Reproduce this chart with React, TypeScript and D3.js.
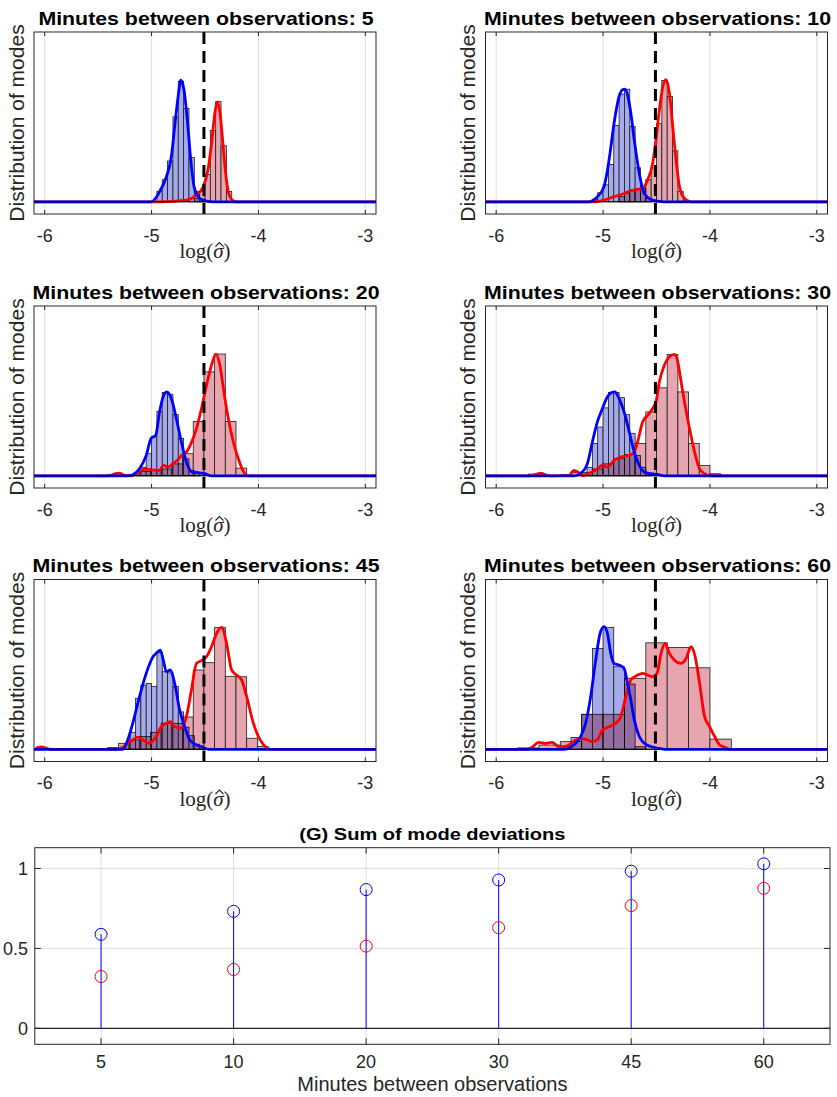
import React, { useRef, useEffect } from 'react';
import * as d3 from 'd3';

const minutes = [5, 10, 20, 30, 45, 60];
const trueLogSigma = -4.51;
const xTicks = [-6, -5, -4, -3];

// histogram bins per panel: left edge of first bin and bin width
const blueBinStart = [-4.95, -5.1, -5.15, -5.2, -5.25, -5.4];
const blueBinWidth = [0.05, 0.05, 0.05, 0.05, 0.05, 0.1];
const redBinStart = [-4.6, -4.85, -5.41, -5.7, -5.41, -5.8];
const redBinWidth = [0.05, 0.05, 0.1, 0.1, 0.1, 0.2];

// bar heights (density, axis top = 1)
const blueHist5 = [0.06, 0.13, 0.24, 0.5, 0.71, 0.55, 0.26, 0.06, 0.015];
const blueHist10 = [0.015, 0.053, 0.1, 0.22, 0.45, 0.634, 0.663, 0.443, 0.2, 0.08, 0.02];
const blueHist20 = [0.02, 0.05, 0.13, 0.23, 0.38, 0.49, 0.48, 0.36, 0.22, 0.1, 0.03, 0.015];
const blueHist30 = [0.01, 0.05, 0.19, 0.287, 0.4, 0.49, 0.49, 0.46, 0.36, 0.25, 0.12, 0.05, 0.015];
const blueHist45 = [0.035, 0.1, 0.3, 0.378, 0.388, 0.37, 0.57, 0.457, 0.45, 0.37, 0.22, 0.13, 0.08, 0.03, 0.01];
const blueHist60 = [0.02, 0.07, 0.206, 0.594, 0.718, 0.486, 0.384, 0.015];

const redHist5 = [0.02, 0.06, 0.16, 0.42, 0.59, 0.33, 0.06];
const redHist10 = [0.03, 0.05, 0.07, 0.075, 0.08, 0.13, 0.2, 0.46, 0.714, 0.62, 0.3, 0.06, 0.01];
const redHist20 = [0.005, 0.005, 0.005, 0.025, 0.035, 0.04, 0.07, 0.13, 0.32, 0.612, 0.717, 0.32, 0.045];
const redHist30 = [0.01, 0.005, 0, 0.005, 0.02, 0.02, 0.04, 0.07, 0.1, 0.124, 0.19, 0.376, 0.518, 0.715, 0.494, 0.19, 0.06, 0.012];
const redHist45 = [0.01, 0.035, 0.055, 0.075, 0.1, 0.153, 0.153, 0.19, 0.467, 0.51, 0.718, 0.43, 0.427, 0.065, 0.016];
const redHist60 = [0.008, 0.025, 0.045, 0.206, 0.206, 0.418, 0.627, 0.6, 0.48, 0.06];

// kernel density of the modes: [log sigma, density]
const blueKde5 = [[-5.003, 0], [-4.925, 0.059], [-4.862, 0.147], [-4.815, 0.265], [-4.784, 0.441], [-4.752, 0.618], [-4.727, 0.716], [-4.696, 0.657], [-4.665, 0.48], [-4.636, 0.265], [-4.602, 0.088], [-4.549, 0.02], [-4.486, 0.004], [-4.423, 0]];
const redKde5 = [[-4.925, 0], [-4.674, 0.01], [-4.58, 0.04], [-4.517, 0.088], [-4.47, 0.196], [-4.439, 0.343], [-4.408, 0.52], [-4.386, 0.588], [-4.361, 0.53], [-4.335, 0.363], [-4.31, 0.186], [-4.282, 0.059], [-4.245, 0.01], [-4.204, 0]];
const blueKde10 = [[-5.132, 0], [-5.053, 0.03], [-4.991, 0.089], [-4.944, 0.246], [-4.897, 0.463], [-4.85, 0.62], [-4.818, 0.66], [-4.796, 0.663], [-4.771, 0.63], [-4.74, 0.522], [-4.708, 0.364], [-4.661, 0.167], [-4.614, 0.049], [-4.552, 0.014], [-4.489, 0.004], [-4.426, 0]];
const redKde10 = [[-5.085, 0], [-4.991, 0.01], [-4.897, 0.03], [-4.803, 0.049], [-4.74, 0.065], [-4.677, 0.073], [-4.63, 0.079], [-4.583, 0.128], [-4.536, 0.226], [-4.505, 0.364], [-4.473, 0.541], [-4.442, 0.675], [-4.411, 0.719], [-4.379, 0.64], [-4.348, 0.443], [-4.317, 0.246], [-4.285, 0.089], [-4.238, 0.02], [-4.176, 0]];
const blueKde20 = [[-5.223, 0], [-5.176, 0.006], [-5.113, 0.041], [-5.05, 0.12], [-5.003, 0.222], [-4.962, 0.238], [-4.925, 0.376], [-4.887, 0.474], [-4.856, 0.494], [-4.815, 0.455], [-4.768, 0.337], [-4.721, 0.199], [-4.674, 0.081], [-4.627, 0.026], [-4.564, 0.018], [-4.502, 0.012], [-4.439, 0]];
const redKde20 = [[-5.395, 0], [-5.348, 0.012], [-5.301, 0.016], [-5.254, 0.004], [-5.191, 0], [-5.144, 0.012], [-5.097, 0.031], [-5.05, 0.039], [-4.987, 0.035], [-4.931, 0.031], [-4.887, 0.061], [-4.846, 0.051], [-4.8, 0.071], [-4.752, 0.096], [-4.712, 0.124], [-4.674, 0.14], [-4.627, 0.195], [-4.58, 0.278], [-4.533, 0.396], [-4.486, 0.533], [-4.439, 0.652], [-4.398, 0.717], [-4.361, 0.652], [-4.323, 0.494], [-4.282, 0.337], [-4.235, 0.199], [-4.188, 0.1], [-4.141, 0.026], [-4.094, 0]];
const blueKde30 = [[-5.273, 0], [-5.194, 0.022], [-5.147, 0.071], [-5.1, 0.199], [-5.053, 0.317], [-5.006, 0.396], [-4.959, 0.465], [-4.922, 0.49], [-4.89, 0.494], [-4.85, 0.455], [-4.803, 0.376], [-4.755, 0.258], [-4.708, 0.14], [-4.661, 0.061], [-4.614, 0.022], [-4.552, 0.012], [-4.489, 0.008], [-4.426, 0]];
const redKde30 = [[-5.68, 0], [-5.618, 0.01], [-5.58, 0.016], [-5.539, 0.006], [-5.492, 0], [-5.32, 0.002], [-5.273, 0.031], [-5.235, 0.022], [-5.194, 0.002], [-5.116, 0.018], [-5.053, 0.041], [-5.006, 0.061], [-4.959, 0.051], [-4.897, 0.091], [-4.834, 0.11], [-4.755, 0.12], [-4.708, 0.14], [-4.677, 0.199], [-4.63, 0.317], [-4.583, 0.356], [-4.536, 0.396], [-4.505, 0.435], [-4.473, 0.553], [-4.426, 0.652], [-4.379, 0.701], [-4.332, 0.715], [-4.301, 0.671], [-4.27, 0.553], [-4.238, 0.435], [-4.191, 0.278], [-4.144, 0.14], [-4.097, 0.041], [-4.05, 0.012], [-3.987, 0]];
const blueKde45 = [[-5.27, 0], [-5.223, 0.055], [-5.176, 0.153], [-5.113, 0.31], [-5.05, 0.447], [-4.987, 0.545], [-4.95, 0.569], [-4.918, 0.584], [-4.887, 0.516], [-4.862, 0.457], [-4.824, 0.467], [-4.784, 0.388], [-4.737, 0.231], [-4.69, 0.133], [-4.643, 0.055], [-4.58, 0.025], [-4.517, 0.012], [-4.47, 0]];
const redKde45 = [[-6.09, 0], [-6.069, 0.01], [-6.028, 0.014], [-5.991, 0.008], [-5.944, 0], [-5.332, 0], [-5.27, 0.012], [-5.223, 0.035], [-5.176, 0.055], [-5.129, 0.071], [-5.082, 0.055], [-5.019, 0.035], [-4.956, 0.075], [-4.909, 0.133], [-4.862, 0.153], [-4.824, 0.163], [-4.784, 0.133], [-4.721, 0.124], [-4.674, 0.192], [-4.627, 0.349], [-4.58, 0.506], [-4.533, 0.522], [-4.486, 0.545], [-4.439, 0.604], [-4.392, 0.682], [-4.345, 0.718], [-4.298, 0.624], [-4.251, 0.467], [-4.204, 0.437], [-4.157, 0.408], [-4.11, 0.31], [-4.047, 0.153], [-3.984, 0.055], [-3.937, 0.016], [-3.89, 0]];
const blueKde60 = [[-5.367, 0], [-5.304, 0.012], [-5.257, 0.035], [-5.21, 0.075], [-5.163, 0.153], [-5.116, 0.31], [-5.069, 0.525], [-5.028, 0.682], [-4.991, 0.722], [-4.959, 0.682], [-4.928, 0.565], [-4.897, 0.506], [-4.85, 0.496], [-4.803, 0.476], [-4.771, 0.388], [-4.74, 0.29], [-4.708, 0.173], [-4.661, 0.075], [-4.614, 0.035], [-4.552, 0.016], [-4.489, 0.006], [-4.426, 0]];
const redKde60 = [[-5.712, 0], [-5.665, 0.012], [-5.602, 0.041], [-5.539, 0.035], [-5.476, 0.041], [-5.429, 0.02], [-5.382, 0.012], [-5.32, 0.025], [-5.257, 0.055], [-5.21, 0.065], [-5.147, 0.055], [-5.1, 0.045], [-5.053, 0.055], [-5.006, 0.114], [-4.944, 0.133], [-4.881, 0.153], [-4.834, 0.192], [-4.787, 0.31], [-4.74, 0.408], [-4.677, 0.437], [-4.63, 0.447], [-4.583, 0.437], [-4.536, 0.427], [-4.495, 0.447], [-4.458, 0.565], [-4.42, 0.624], [-4.379, 0.565], [-4.332, 0.525], [-4.27, 0.506], [-4.223, 0.535], [-4.176, 0.604], [-4.138, 0.545], [-4.097, 0.388], [-4.05, 0.192], [-4.003, 0.133], [-3.956, 0.075], [-3.909, 0.025], [-3.862, 0.012], [-3.815, 0]];

// (G) sum of mode deviations
const devBlue = [0.588, 0.732, 0.868, 0.928, 0.983, 1.029];
const devRed = [0.324, 0.368, 0.514, 0.63, 0.768, 0.876];
const devTicks = [0, 0.5, 1];

const blueHists = [blueHist5, blueHist10, blueHist20, blueHist30, blueHist45, blueHist60];
const redHists = [redHist5, redHist10, redHist20, redHist30, redHist45, redHist60];
const blueKdes = [blueKde5, blueKde10, blueKde20, blueKde30, blueKde45, blueKde60];
const redKdes = [redKde5, redKde10, redKde20, redKde30, redKde45, redKde60];

const SANS = 'Liberation Sans, Arial, Helvetica, sans-serif';
const SERIF = 'Liberation Serif, Times New Roman, serif';
const TXT = '#262626';

const App = () => {
  const svgRef = useRef<SVGSVGElement>(null);

  useEffect(() => {
    const svg = d3.select(svgRef.current);
    svg.selectAll('*').remove();

    const colLeft = [34, 485.5];
    const rowTop = [32, 306, 579.5];
    const pw = 342;
    const ph = 182;
    const defs = svg.append('defs');

    const bins = (start: number, w: number, h: number[]) =>
      h.map((v, k) => ({ x0: start + k * w, x1: start + (k + 1) * w, v }));

    minutes.forEach((m, i) => {
      const left = colLeft[i % 2];
      const top = rowTop[Math.floor(i / 2)];
      const x = d3.scaleLinear().domain([-6.1, -2.9]).range([left, left + pw]);
      const y = d3.scaleLinear().domain([-0.072, 1]).range([top + ph, top]);
      const g = svg.append('g');

      defs.append('clipPath').attr('id', `clip${i}`)
        .append('rect').attr('x', left).attr('y', top).attr('width', pw).attr('height', ph);

      g.append('rect').attr('x', left).attr('y', top).attr('width', pw).attr('height', ph).attr('fill', '#fff');

      // vertical grid
      g.selectAll('line.grid').data(xTicks).join('line')
        .attr('x1', d => x(d)).attr('x2', d => x(d))
        .attr('y1', top).attr('y2', top + ph)
        .attr('stroke', '#dedede').attr('stroke-width', 1);

      const plot = g.append('g').attr('clip-path', `url(#clip${i})`);

      plot.append('g').selectAll('rect')
        .data(bins(blueBinStart[i], blueBinWidth[i], blueHists[i]).filter(d => d.v > 0))
        .join('rect')
        .attr('x', d => x(d.x0)).attr('width', d => x(d.x1) - x(d.x0))
        .attr('y', d => y(d.v)).attr('height', d => y(0) - y(d.v))
        .attr('fill', '#a5aaeb').attr('stroke', '#1c1c1c').attr('stroke-width', 0.8);

      plot.append('g').style('mix-blend-mode', 'multiply').selectAll('rect')
        .data(bins(redBinStart[i], redBinWidth[i], redHists[i]).filter(d => d.v > 0))
        .join('rect')
        .attr('x', d => x(d.x0)).attr('width', d => x(d.x1) - x(d.x0))
        .attr('y', d => y(d.v)).attr('height', d => y(0) - y(d.v))
        .attr('fill', '#e6a5af').attr('stroke', '#1c1c1c').attr('stroke-width', 0.8);

      const line = d3.line<number[]>().x(d => x(d[0])).y(d => y(d[1])).curve(d3.curveMonotoneX);
      const full = (pts: number[][]) => [[-6.1, 0], ...pts, [-2.9, 0]];

      plot.append('path').attr('d', line(full(redKdes[i])))
        .attr('fill', 'none').attr('stroke', '#ff0000').attr('stroke-width', 2.8).attr('stroke-linejoin', 'round');
      plot.append('path').attr('d', line(full(blueKdes[i])))
        .attr('fill', 'none').attr('stroke', '#0000ff').attr('stroke-width', 2.8).attr('stroke-linejoin', 'round');
      plot.append('line').attr('x1', left).attr('x2', left + pw).attr('y1', y(0)).attr('y2', y(0))
        .attr('stroke', '#000').attr('stroke-width', 1.1);

      // true value
      g.append('line').attr('x1', x(trueLogSigma)).attr('x2', x(trueLogSigma))
        .attr('y1', top).attr('y2', top + ph)
        .attr('stroke', '#000').attr('stroke-width', 3).attr('stroke-dasharray', '12,7');

      g.append('rect').attr('x', left).attr('y', top).attr('width', pw).attr('height', ph)
        .attr('fill', 'none').attr('stroke', TXT).attr('stroke-width', 1);

      // tick marks top and bottom
      xTicks.forEach(t => {
        g.append('line').attr('x1', x(t)).attr('x2', x(t)).attr('y1', top + ph).attr('y2', top + ph - 4).attr('stroke', TXT);
        g.append('line').attr('x1', x(t)).attr('x2', x(t)).attr('y1', top).attr('y2', top + 4).attr('stroke', TXT);
      });

      g.selectAll('text.tick').data(xTicks).join('text')
        .attr('x', d => x(d)).attr('y', top + ph + 27.5)
        .attr('text-anchor', 'middle').attr('font-family', SANS).attr('font-size', 18).attr('fill', TXT)
        .text(d => String(d));

      // x label log(sigma-hat), hat drawn over the sigma
      const base = top + ph + 44;
      const xl = g.append('text').attr('x', left + pw / 2).attr('y', base)
        .attr('text-anchor', 'middle').attr('font-family', SERIF).attr('font-size', 21).attr('fill', TXT);
      xl.append('tspan').text('log(');
      xl.append('tspan').attr('font-style', 'italic').text('\u03c3');
      xl.append('tspan').text(')');
      let hx = left + pw / 2 + 6;
      try {
        const ext = (xl.node() as SVGTextElement).getExtentOfChar(4);
        hx = ext.x + ext.width / 2 + 1;
      } catch (e) { /* keep estimate */ }
      g.append('path')
        .attr('d', `M${hx - 4},${base - 11.5} L${hx},${base - 15.5} L${hx + 4},${base - 11.5}`)
        .attr('fill', 'none').attr('stroke', TXT).attr('stroke-width', 1.1);

      g.append('text').attr('transform', `translate(${left - 10.5},${top + ph / 2}) rotate(-90)`)
        .attr('text-anchor', 'middle').attr('font-family', SANS).attr('font-size', 21).attr('fill', TXT)
        .text('Distribution of modes');

      g.append('text').attr('transform', `translate(${left + pw / 2 + 1},${top - 7.5}) scale(1.185,1)`)
        .attr('text-anchor', 'middle').attr('font-family', SANS).attr('font-weight', 'bold')
        .attr('font-size', 18).attr('fill', '#000')
        .text(`Minutes between observations: ${m}`);
    });

    // (G) stem plot
    const bl = 34.8, br = 830, bt = 847.7, bb = 1044.3;
    const xb = d3.scalePoint<string>().domain(minutes.map(String)).range([bl, br]).padding(0.5);
    const yb = d3.scaleLinear().domain([-0.1, 1.13]).range([bb, bt]);
    const gb = svg.append('g');

    gb.append('rect').attr('x', bl).attr('y', bt).attr('width', br - bl).attr('height', bb - bt).attr('fill', '#fff');
    gb.selectAll('line.vg').data(minutes).join('line')
      .attr('x1', d => xb(String(d))!).attr('x2', d => xb(String(d))!).attr('y1', bt).attr('y2', bb)
      .attr('stroke', '#dedede');
    gb.selectAll('line.hg').data(devTicks).join('line')
      .attr('x1', bl).attr('x2', br).attr('y1', d => yb(d)).attr('y2', d => yb(d))
      .attr('stroke', '#dedede');

    gb.append('line').attr('x1', bl).attr('x2', br).attr('y1', yb(0)).attr('y2', yb(0))
      .attr('stroke', '#262626').attr('stroke-width', 1.2);

    gb.selectAll('line.stem').data(devBlue).join('line')
      .attr('x1', (d, k) => xb(String(minutes[k]))!).attr('x2', (d, k) => xb(String(minutes[k]))!)
      .attr('y1', yb(0)).attr('y2', d => yb(d))
      .attr('stroke', '#0000ff').attr('stroke-width', 1);

    gb.selectAll('circle.red').data(devRed).join('circle')
      .attr('cx', (d, k) => xb(String(minutes[k]))!).attr('cy', d => yb(d)).attr('r', 6)
      .attr('fill', 'none').attr('stroke', '#ff0000').attr('stroke-width', 1);
    gb.selectAll('circle.blue').data(devBlue).join('circle')
      .attr('cx', (d, k) => xb(String(minutes[k]))!).attr('cy', d => yb(d)).attr('r', 6)
      .attr('fill', 'none').attr('stroke', '#0000ff').attr('stroke-width', 1);

    gb.append('rect').attr('x', bl).attr('y', bt).attr('width', br - bl).attr('height', bb - bt)
      .attr('fill', 'none').attr('stroke', TXT).attr('stroke-width', 1);

    minutes.forEach(mm => {
      const px = xb(String(mm))!;
      gb.append('line').attr('x1', px).attr('x2', px).attr('y1', bb).attr('y2', bb - 6).attr('stroke', TXT);
      gb.append('line').attr('x1', px).attr('x2', px).attr('y1', bt).attr('y2', bt + 6).attr('stroke', TXT);
    });
    devTicks.forEach(t => {
      gb.append('line').attr('x1', bl).attr('x2', bl + 6).attr('y1', yb(t)).attr('y2', yb(t)).attr('stroke', TXT);
      gb.append('line').attr('x1', br).attr('x2', br - 6).attr('y1', yb(t)).attr('y2', yb(t)).attr('stroke', TXT);
    });

    gb.selectAll('text.yt').data(devTicks).join('text')
      .attr('x', 28).attr('y', d => yb(d)).attr('dy', '0.35em')
      .attr('text-anchor', 'end').attr('font-family', SANS).attr('font-size', 18).attr('fill', TXT)
      .text(d => String(d));
    gb.selectAll('text.xt').data(minutes).join('text')
      .attr('x', d => xb(String(d))!).attr('y', bb + 23.5)
      .attr('text-anchor', 'middle').attr('font-family', SANS).attr('font-size', 18).attr('fill', TXT)
      .text(d => String(d));
    gb.append('text').attr('x', (bl + br) / 2).attr('y', 1091)
      .attr('text-anchor', 'middle').attr('font-family', SANS).attr('font-size', 20).attr('fill', TXT)
      .text('Minutes between observations');
    gb.append('text').attr('transform', `translate(${(bl + br) / 2},840) scale(1.18,1)`)
      .attr('text-anchor', 'middle').attr('font-family', SANS).attr('font-weight', 'bold')
      .attr('font-size', 17).attr('fill', '#000')
      .text('(G) Sum of mode deviations');
  }, []);

  return (
    <svg ref={svgRef} width={837} height={1097}
      style={{ position: 'absolute', left: 0, top: 0, background: '#fff', display: 'block' }} />
  );
};

export default App;
